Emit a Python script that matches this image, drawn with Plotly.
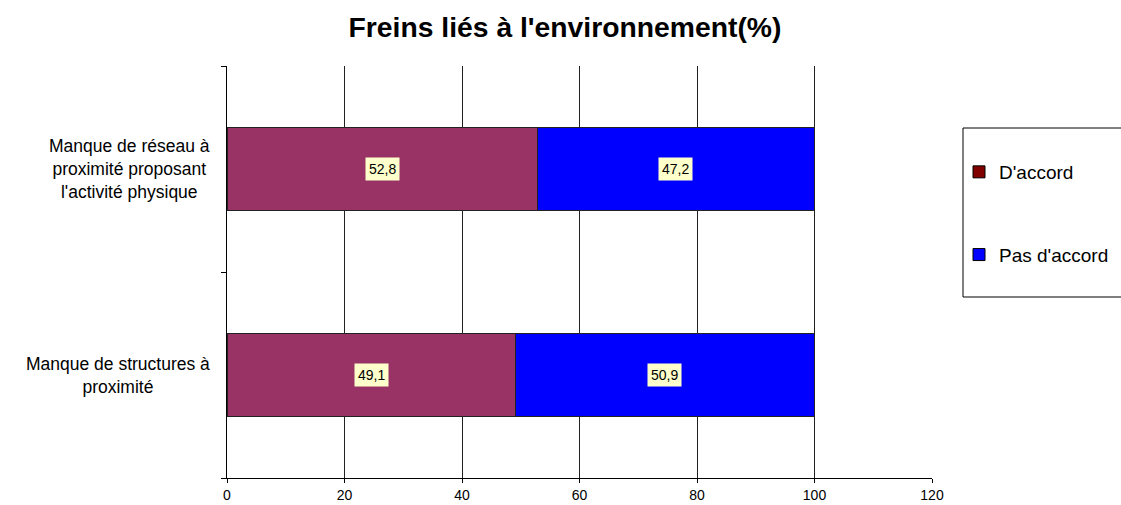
import plotly.graph_objects as go

categories = [
    "Manque de structures à<br>proximité",
    "Manque de réseau à<br>proximité proposant<br>l'activité physique",
]
series_names = ["D'accord", "Pas d'accord"]
d_accord = [49.1, 52.8]
pas_daccord = [50.9, 47.2]
bar_colors = ["#993366", "#0000FF"]
legend_colors = ["#800000", "#0000FF"]
x_ticks = [0, 20, 40, 60, 80, 100, 120]

FONT = "Arial, Liberation Sans, Helvetica, sans-serif"

W, H = 1121, 505
L, R, T, B = 227, 189, 66, 27

fig = go.Figure()
for name, vals, col in zip(series_names, [d_accord, pas_daccord], bar_colors):
    fig.add_trace(go.Bar(
        y=categories, x=vals, name=name, orientation="h",
        marker=dict(color=col, line=dict(color="#222222", width=1)),
        showlegend=False, hoverinfo="x+name",
    ))
# legend entries (swatch colours as in the reference)
for i, (name, col) in enumerate(zip(series_names, legend_colors)):
    fig.add_trace(go.Bar(
        y=[None], x=[None], name=name, orientation="h",
        marker=dict(color=col, line=dict(color="#000000", width=1)),
        legendgroup=f"g{i}", showlegend=True,
    ))

annotations = []
# value labels
for ci, cat in enumerate(categories):
    base = 0
    for vals in [d_accord, pas_daccord]:
        v = vals[ci]
        annotations.append(dict(
            x=base + v / 2, y=cat, xref="x", yref="y",
            text=f"{v:.1f}".replace(".", ","), showarrow=False,
            font=dict(family=FONT, size=14, color="#000000"),
            bgcolor="#FFFFCC", borderpad=3,
        ))
        base += v
# category labels (centred multi-line)
for cat in categories:
    annotations.append(dict(
        x=0, y=cat, xref="paper", yref="y", xanchor="right", xshift=-15,
        text=cat, showarrow=False, align="center",
        font=dict(family=FONT, size=17.5, color="#000000"),
    ))

fig.update_layout(
    template="none",
    width=W, height=H,
    margin=dict(l=L, r=R, t=T, b=B, autoexpand=False),
    paper_bgcolor="white", plot_bgcolor="white",
    barmode="stack", bargap=0.597,
    title=dict(text="<b>Freins liés à l'environnement(%)</b>",
               x=565 / W, xanchor="center", y=1 - 27 / H, yanchor="middle",
               font=dict(family=FONT, size=28.3, color="#000000")),
    font=dict(family=FONT, color="#000000"),
    xaxis=dict(range=[0, 120], tickvals=x_ticks, showgrid=True,
               gridcolor="#222222", gridwidth=1, showline=True,
               linecolor="#000000", linewidth=1, ticks="outside", ticklen=4,
               tickcolor="#000000", zeroline=False, automargin=False,
               tickfont=dict(family=FONT, size=14, color="#000000")),
    yaxis=dict(type="category", categoryorder="array", categoryarray=categories,
               range=[-0.5, 1.5], showticklabels=False, ticks="outside",
               tickson="boundaries", ticklen=5, tickcolor="#000000",
               showgrid=False, showline=True, linecolor="#000000",
               linewidth=1, zeroline=False, automargin=False),
    legend=dict(x=(959 - L) / (W - L - R), y=(H - B - 153) / (H - T - B),
                xanchor="left", yanchor="top",
                traceorder="grouped", tracegroupgap=55,
                font=dict(family=FONT, size=19, color="#000000"),
                bgcolor="rgba(0,0,0,0)", borderwidth=0,
                itemwidth=30),
    annotations=annotations,
    shapes=[dict(type="rect", xref="paper", yref="paper",
                 x0=(963 - L) / (W - L - R), x1=1.3,
                 y0=(H - B - 297) / (H - T - B),
                 y1=(H - B - 128) / (H - T - B),
                 line=dict(color="#000000", width=1),
                 fillcolor="rgba(0,0,0,0)", layer="below")],
)

fig.write_html(
    "out.html",
    config={"displayModeBar": False},
    post_script="document.body.style.margin='0';document.body.style.overflow='hidden';",
)
